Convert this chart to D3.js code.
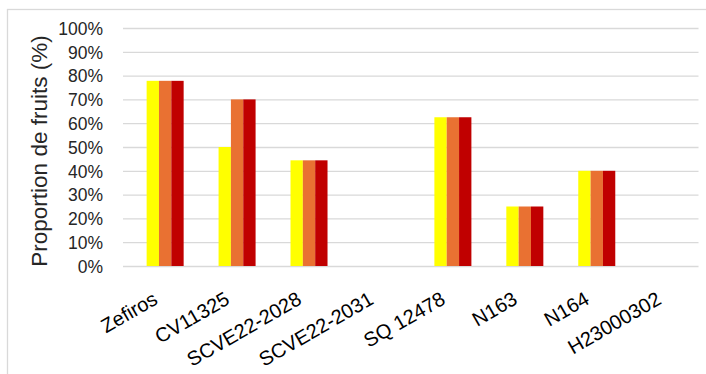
<!DOCTYPE html>
<html>
<head>
<meta charset="utf-8">
<script src="https://cdn.jsdelivr.net/npm/d3@7"></script>
<style>
  html, body { margin: 0; padding: 0; background: #fff; }
  svg { display: block; }
</style>
</head>
<body>
<svg id="chart" width="706" height="374"></svg>
<script>
// Categories (cultivars / lines)
const categories = ["Zefiros", "CV11325", "SCVE22-2028", "SCVE22-2031", "SQ 12478", "N163", "N164", "H23000302"];

// Series values (proportion of fruits); the first series is empty for every line
const seriesKeys = ["S1", "S2", "S3", "S4"];
const s1Values = [0, 0, 0, 0, 0, 0, 0, 0];
const s2Values = [0.778, 0.50, 0.444, 0, 0.625, 0.25, 0.40, 0];
const s3Values = [0.778, 0.70, 0.444, 0, 0.625, 0.25, 0.40, 0];
const s4Values = [0.778, 0.70, 0.444, 0, 0.625, 0.25, 0.40, 0];
const seriesColors = ["#5B9BD5", "#FFFF00", "#E97132", "#C00000"];

// Y tick values and labels
const yTicks = [0, 0.1, 0.2, 0.3, 0.4, 0.5, 0.6, 0.7, 0.8, 0.9, 1.0];
const yTitle = "Proportion de fruits (%)";

const seriesValues = [s1Values, s2Values, s3Values, s4Values];
const rows = categories.map((c, i) => {
  const r = { category: c };
  seriesKeys.forEach((k, j) => { r[k] = seriesValues[j][i]; });
  return r;
});

const svg = d3.select("#chart");
const font = "'Liberation Sans', Arial, sans-serif";

// Chart area frame
svg.append("rect")
  .attr("x", 7.5).attr("y", 9.5)
  .attr("width", 740).attr("height", 420)
  .attr("fill", "#fff").attr("stroke", "#d9d9d9").attr("stroke-width", 1.3);

const plot = { left: 123, right: 698.5, top: 28, bottom: 266 };

const x0 = d3.scaleBand().domain(categories).range([plot.left, plot.right]).paddingInner(0).paddingOuter(0);
const groupW = x0.bandwidth() * 0.686;
const x1 = d3.scaleBand().domain(seriesKeys)
  .range([(x0.bandwidth() - groupW) / 2, (x0.bandwidth() + groupW) / 2]);
const y = d3.scaleLinear().domain([0, 1]).range([plot.bottom, plot.top]);

// Gridlines + y labels via axis
const yAxis = d3.axisLeft(y).tickValues(yTicks).tickFormat(d3.format(".0%"))
  .tickSize(-(plot.right - plot.left)).tickPadding(20);
const gy = svg.append("g").attr("transform", `translate(${plot.left},0)`).call(yAxis);
gy.select(".domain").remove();
gy.selectAll(".tick line").attr("stroke", "#d9d9d9").attr("stroke-width", 1.3);
gy.selectAll(".tick text")
  .attr("font-family", font).attr("font-size", 17.5).attr("fill", "#262626")
  .attr("x", -20).attr("dy", "0.36em");

// Bars
const groups = svg.append("g").selectAll("g").data(rows).join("g")
  .attr("transform", d => `translate(${x0(d.category)},0)`);
groups.selectAll("rect")
  .data(d => seriesKeys.map((k, j) => ({ key: k, value: d[k], color: seriesColors[j] })))
  .join("rect")
  .attr("x", d => x1(d.key))
  .attr("width", x1.bandwidth())
  .attr("y", d => y(d.value))
  .attr("height", d => y(0) - y(d.value))
  .attr("fill", d => d.color);

// Category labels, rotated
const xAxis = d3.axisBottom(x0).tickSize(0).tickPadding(0);
const gx = svg.append("g").attr("transform", `translate(0,${plot.bottom})`).call(xAxis);
gx.select(".domain").remove();
gx.selectAll(".tick text")
  .attr("font-family", font).attr("font-size", 20).attr("fill", "#000")
  .attr("text-anchor", "end")
  .attr("x", 0).attr("y", 0).attr("dy", 0)
  .attr("transform", "translate(0,37) rotate(-30)");

// Y axis title
svg.append("text")
  .attr("transform", `translate(47,${(plot.top + plot.bottom) / 2 + 4}) rotate(-90)`)
  .attr("text-anchor", "middle")
  .attr("font-family", font).attr("font-size", 22.5).attr("fill", "#262626")
  .text(yTitle);
</script>
</body>
</html>
